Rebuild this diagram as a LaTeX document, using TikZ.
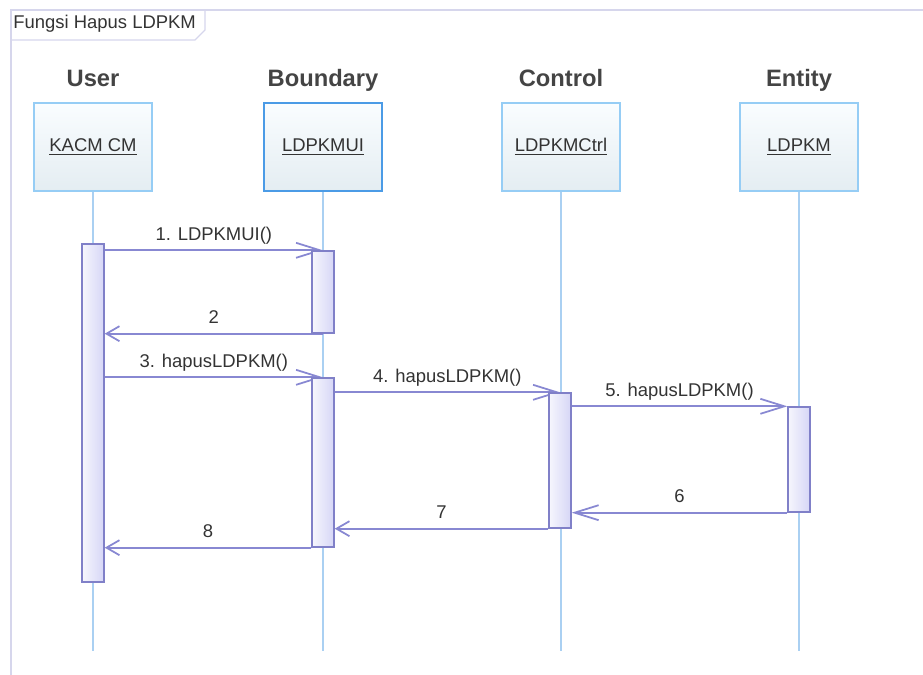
\documentclass[tikz,border=0pt]{standalone}
\usepackage{fontspec}
\setmainfont{Liberation Sans}
\usepackage{xcolor}
\usetikzlibrary{positioning, arrows.meta}
\definecolor{framecol}{RGB}{214,214,236}
\definecolor{txtcol}{RGB}{51,51,51}
\definecolor{headcol}{RGB}{68,68,68}
\definecolor{objcol}{RGB}{150,205,245}
\definecolor{bndcol}{RGB}{75,155,230}
\definecolor{lifecol}{RGB}{170,208,242}
\definecolor{msgcol}{RGB}{136,136,210}
\definecolor{barcol}{RGB}{128,128,200}
\definecolor{barleft}{RGB}{246,246,253}
\definecolor{barright}{RGB}{214,214,246}
\definecolor{objtop}{RGB}{250,253,255}
\definecolor{objbot}{RGB}{228,237,242}
\pgfdeclarelayer{back}
\pgfsetlayers{back,main}

\begin{document}
\begin{tikzpicture}[x=0.02cm, y=-0.02cm, every node/.style={font=\fontsize{10.5}{12}\selectfont, text=txtcol}]
  \tikzset{
    frame/.style={draw=framecol, line width=0.8pt},
    head/.style={font=\fontsize{13.5}{16}\selectfont\bfseries, text=headcol, inner sep=0pt, text depth=0pt},
    obj/.style={draw=objcol, line width=0.8pt, top color=objtop, bottom color=objbot, minimum width=2.36cm, minimum height=1.76cm, inner sep=0pt},
    life/.style={draw=lifecol, line width=0.6pt},
    actbar/.style={draw=barcol, line width=0.8pt, left color=barleft, right color=barright, minimum width=0.44cm, minimum height=#1, inner sep=0pt},
    msg/.style={draw=msgcol, line width=1pt, -{Straight Barb[length=#1, width=0.3cm]}},
    msg/.default=0.48cm,
    mlabel/.style={above=0.18cm, inner sep=0pt, text depth=0pt},
  }
  \useasboundingbox (0,0) rectangle (923,675);
  %% frame with title tab
  \draw[frame] (11,675) -- (11,10) -- (923,10);
  \draw[frame] (11,40) -- (195,40) -- (205,30) -- (205,10);
  \node[anchor=base west, inner sep=0pt] (title) at (13,29) {Fungsi Hapus LDPKM};
  %% objects and stereotype headings
  \node[obj] (kacm) at (93,147) {\underline{KACM CM}};
  \node[obj, draw=bndcol, line width=1.2pt] (ldpkmui) at (323,147) {\underline{LDPKMUI}};
  \node[obj] (ctrl) at (561,147) {\underline{LDPKMCtrl}};
  \node[obj] (ent) at (799,147) {\underline{LDPKM}};
  \node[head, above=0.3cm of kacm] (huser) {User};
  \node[head, above=0.3cm of ldpkmui] (hbound) {Boundary};
  \node[head, above=0.3cm of ctrl] (hctrl) {Control};
  \node[head, above=0.3cm of ent] (hent) {Entity};
  %% lifelines
  \begin{pgfonlayer}{back}
    \foreach \o in {kacm, ldpkmui, ctrl, ent}
      \draw[life] (\o.south) -- (\o.south |- 0,651);
  \end{pgfonlayer}
  %% activation bars
  \node[actbar=6.76cm] (ubar) at (93,413) {};
  \node[actbar=1.64cm] (bbar1) at (323,292) {};
  \node[actbar=3.38cm] (bbar2) at (323,462.5) {};
  \node[actbar=2.7cm] (cbar) at (560,460.5) {};
  \node[actbar=2.1cm] (ebar) at (799,459.5) {};
  %% messages
  \begin{pgfonlayer}{back}
    \draw[msg] (ubar.east |- bbar1.north) -- node[mlabel] (m1) {1. LDPKMUI()} (bbar1.north);
    \draw[msg=0.26cm] (bbar1.south) -- node[mlabel] (m2) {2} (ubar.east |- bbar1.south);
    \draw[msg] (ubar.east |- bbar2.north) -- node[mlabel] (m3) {3. hapusLDPKM()} (bbar2.north);
    \draw[msg] (bbar2.east |- cbar.north) -- node[mlabel] (m4) {4. hapusLDPKM()} (cbar.north);
    \draw[msg] (cbar.east |- ebar.north) -- node[mlabel] (m5) {5. hapusLDPKM()} (ebar.north west);
    \draw[msg] (ebar.south west) -- node[mlabel] (m6) {6} (cbar.east |- ebar.south west);
    \draw[msg=0.26cm] (cbar.south west) -- node[mlabel] (m7) {7} (bbar2.east |- cbar.south west);
    \draw[msg=0.26cm] (bbar2.south west) -- node[mlabel] (m8) {8} (ubar.east |- bbar2.south west);
  \end{pgfonlayer}
\end{tikzpicture}
\end{document}
